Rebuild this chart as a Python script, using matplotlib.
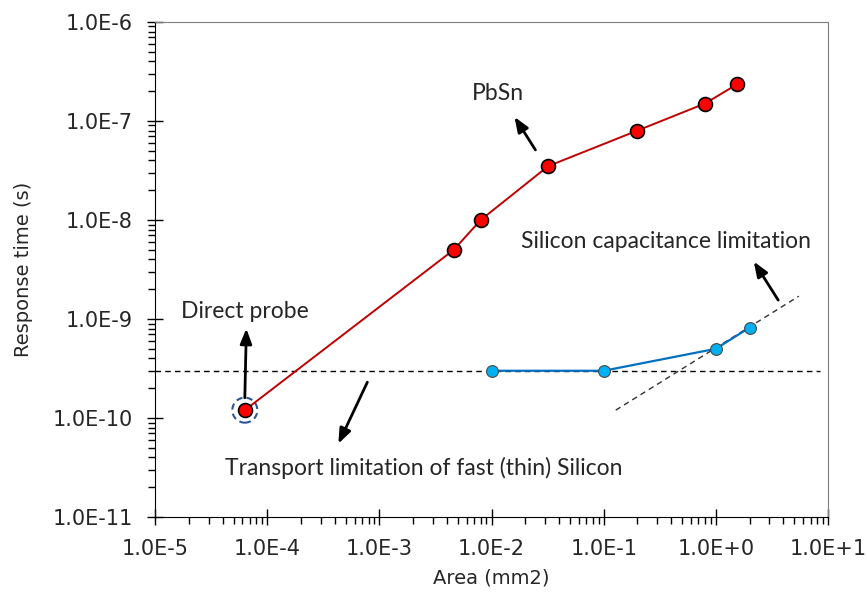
import math
import matplotlib
matplotlib.use("Agg")
import matplotlib.pyplot as plt
import matplotlib.transforms as mtrans
from matplotlib.patches import Circle
from matplotlib.ticker import LogLocator, FuncFormatter, NullFormatter

# PbSn detector: area (mm2) vs response time (s)
pbsn_area = [6.3e-5, 4.6e-3, 8.0e-3, 3.2e-2, 0.2, 0.8, 1.55]
pbsn_time = [1.2e-10, 5.0e-9, 1.0e-8, 3.5e-8, 8.0e-8, 1.5e-7, 2.35e-7]

# silicon detector
si_area = [1.0e-2, 1.0e-1, 1.0, 2.0]
si_time = [3.0e-10, 3.0e-10, 5.0e-10, 8.2e-10]

# transport limit (horizontal) and capacitance limit (diagonal)
transport_x = [1e-5, 8.5]
transport_y = [3.0e-10, 3.0e-10]
cap_x = [0.128, 5.5]
cap_y = [1.2e-10, 1.7e-9]

TICK_FONT = ["Liberation Sans Narrow", "DejaVu Sans"]
NOTE_FONT = ["Lato", "DejaVu Sans"]


def sci_label(v, pos):
    exp = int(round(math.log10(v)))
    sign = "+" if exp >= 0 else "-"
    return "1.0E%s%d" % (sign, abs(exp))


fig = plt.figure(figsize=(8.67, 6.03), dpi=100)
ax = fig.add_axes([0.179, 0.1426, 0.776, 0.821])
ax.set_xscale("log")
ax.set_yscale("log")
ax.set_xlim(1e-5, 1e1)
ax.set_ylim(1e-11, 1e-6)

ax.plot(transport_x, transport_y, color="black", lw=1.0, ls=(0, (4, 3)), zorder=2)
ax.plot(cap_x, cap_y, color="#333333", lw=1.0, ls=(0, (4, 3)), zorder=2)

ax.plot(pbsn_area, pbsn_time, color="#C00000", lw=1.4, marker="o", ms=10,
        mfc="#FF0000", mec="black", mew=1.2, zorder=4)
ax.plot(si_area, si_time, color="#0070C0", lw=1.6, marker="o", ms=8.5,
        mfc="#00B0F0", mec="#4a4a4a", mew=0.8, zorder=4)

# dashed ring around the direct probe point
ring_tr = fig.dpi_scale_trans + mtrans.ScaledTranslation(pbsn_area[0], pbsn_time[0], ax.transData)
ax.add_patch(Circle((0, 0), 0.125, transform=ring_tr, fill=False,
                    ec="#2F5597", lw=1.5, ls=(0, (3, 2)), zorder=3))

arrow = dict(arrowstyle="-|>,head_length=0.9,head_width=0.35", color="black", lw=2,
             shrinkA=0, shrinkB=0)
ax.annotate("", xy=(1.6e-2, 1.1e-7), xytext=(2.46e-2, 5.1e-8), arrowprops=arrow)
ax.annotate("", xy=(6.5e-5, 8.0e-10), xytext=(6.3e-5, 1.6e-10), arrowprops=arrow)
ax.annotate("", xy=(2.18, 3.8e-9), xytext=(3.6, 1.55e-9), arrowprops=arrow)
ax.annotate("", xy=(4.3e-4, 5.5e-11), xytext=(7.8e-4, 2.3e-10), arrowprops=arrow)

note = dict(fontsize=16.5, family=NOTE_FONT, color="#262626", ha="center", va="center")
ax.text(1.15e-2, 1.9e-7, "PbSn", **note)
ax.text(6.3e-5, 1.2e-9, "Direct probe", **note)
ax.text(0.36, 6.0e-9, "Silicon capacitance limitation", **note)
ax.text(2.5e-3, 3.1e-11, "Transport limitation of fast (thin) Silicon", **note)

ax.xaxis.set_major_locator(LogLocator(base=10, numticks=20))
ax.yaxis.set_major_locator(LogLocator(base=10, numticks=20))
ax.xaxis.set_minor_locator(LogLocator(base=10, subs=range(2, 10), numticks=20))
ax.yaxis.set_minor_locator(LogLocator(base=10, subs=range(2, 10), numticks=20))
ax.xaxis.set_major_formatter(FuncFormatter(sci_label))
ax.yaxis.set_major_formatter(FuncFormatter(sci_label))
ax.xaxis.set_minor_formatter(NullFormatter())
ax.yaxis.set_minor_formatter(NullFormatter())

ax.tick_params(which="major", direction="inout", length=12, width=1, pad=10,
               labelsize=15, labelcolor="#262626")
ax.tick_params(which="minor", direction="out", length=5, width=1)
for lab in ax.get_xticklabels() + ax.get_yticklabels():
    lab.set_family(TICK_FONT)

for side in ["top", "right"]:
    ax.spines[side].set_color("#7f7f7f")
for side in ["left", "bottom"]:
    ax.spines[side].set_color("black")

ax.set_xlabel("Area (mm2)", fontsize=14, family=TICK_FONT, color="#262626", labelpad=7)
ax.set_ylabel("Response time (s)", fontsize=14, family=TICK_FONT, color="#262626", labelpad=14)

fig.savefig("out.png", dpi=100)
